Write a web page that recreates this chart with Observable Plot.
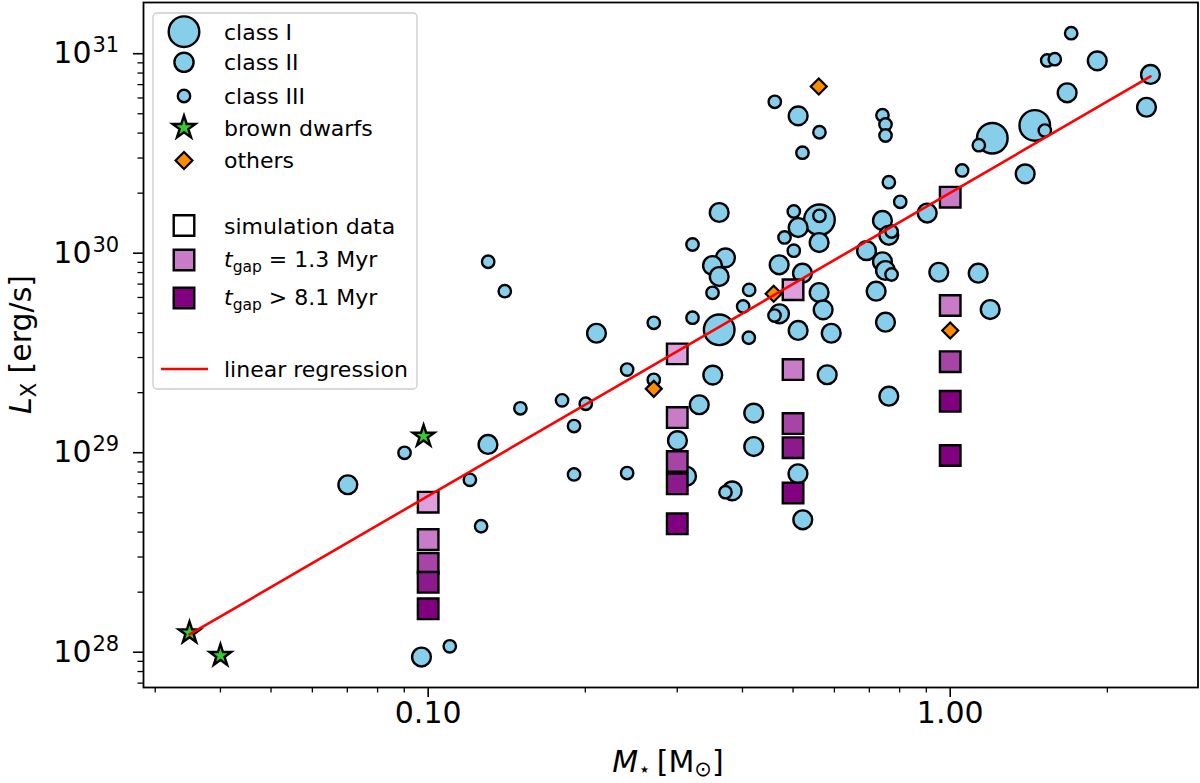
<!DOCTYPE html>
<html>
<head>
<meta charset="utf-8">
<script src="https://cdn.jsdelivr.net/npm/d3@7"></script>
<script src="https://cdn.jsdelivr.net/npm/@observablehq/plot@0.6"></script>
<style>
  body { margin: 0; background: #fff; font-family: "DejaVu Sans", sans-serif; }
  #chart { position: relative; width: 1200px; height: 783px; }
  #legend { position: absolute; left: 0; top: 0; pointer-events: none; }
</style>
</head>
<body>
<div id="chart"></div>
<script>
// observed stars, M* in solar masses, Lx in erg/s
const classI_M = [1.452, 1.204, 0.5617, 0.361];
const classI_L = [4.37e30, 3.77e30, 1.47e30, 4.13e29];

const classII_M = [1.913, 2.419, 2.377, 1.675, 1.392, 0.5114, 0.9036, 0.361, 0.5114, 0.561,
  0.4703, 0.5212, 0.3711, 0.3505, 0.361, 0.471, 0.561, 0.571, 0.5114, 0.5917,
  0.7417, 0.7629, 0.6913, 0.7417, 0.7517, 0.7214, 0.7517, 0.951, 1.1315, 1.193,
  0.2101, 0.3509, 0.3306, 0.3003, 0.1302, 0.3126, 0.4204, 0.4204, 0.3823, 0.511,
  0.5219, 0.5813, 0.7629, 0.07016, 0.0971];
const classII_L = [9.21e30, 7.87e30, 5.39e30, 6.37e30, 2.50e30, 4.88e30, 1.59e30, 1.60e30, 1.345e30, 1.131e30,
  8.75e29, 7.94e29, 9.48e29, 8.68e29, 7.64e29, 4.97e29, 6.35e29, 5.20e29, 4.10e29, 3.97e29,
  1.46e30, 1.23e30, 1.03e30, 9.06e29, 8.19e29, 6.45e29, 4.51e29, 8.03e29, 7.94e29, 5.22e29,
  3.97e29, 2.45e29, 1.74e29, 1.15e29, 1.10e29, 7.62e28, 1.58e29, 1.074e29, 6.44e28, 7.84e28,
  4.61e28, 2.46e29, 1.92e29, 6.91e28, 9.46e27];

const classIII_M = [1.705, 1.534, 1.586, 1.518, 1.1345, 1.054, 0.4613, 0.5617, 0.5212, 0.7417,
  0.7517, 0.7517, 0.7629, 0.8022, 0.5016, 0.5617, 0.4815, 0.5016, 0.412, 0.3505,
  0.4012, 0.4607, 0.4113, 0.7721, 0.7721, 0.1303, 0.1402, 0.2705, 0.3209, 0.3209,
  0.2405, 0.2705, 0.1805, 0.2004, 0.1502, 0.1903, 0.0901, 0.1202, 0.1263, 0.11,
  0.1903, 0.2405, 0.3711];
const classIII_L = [1.267e31, 9.25e30, 9.39e30, 4.12e30, 3.48e30, 2.60e30, 5.74e30, 4.04e30, 3.19e30, 4.92e30,
  4.42e30, 3.89e30, 2.27e30, 1.81e30, 1.62e30, 1.54e30, 1.20e30, 1.03e30, 6.55e29, 6.33e29,
  5.41e29, 4.87e29, 3.77e29, 1.285e30, 7.82e29, 9.06e29, 6.45e29, 4.48e29, 4.75e29, 1.106e30,
  2.61e29, 2.32e29, 1.83e29, 1.76e29, 1.67e29, 1.36e29, 9.99e28, 7.31e28, 4.28e28, 1.07e28,
  7.78e28, 7.91e28, 6.34e28];

const dwarfs_M = [0.0349, 0.040, 0.098];
const dwarfs_L = [1.25e28, 9.62e27, 1.21e29];

const others_M = [0.560, 0.459, 0.2705, 1.0];
const others_L = [6.85e30, 6.26e29, 2.09e29, 4.10e29];

// simulation runs; stage 0 = earliest gap ... 4 = latest
const sim_M = [0.1, 0.1, 0.1, 0.1, 0.1, 0.3, 0.3, 0.3, 0.3, 0.3,
  0.5, 0.5, 0.5, 0.5, 0.5, 1.0, 1.0, 1.0, 1.0, 1.0];
const sim_L = [5.65e28, 3.67e28, 2.79e28, 2.24e28, 1.65e28, 3.13e29, 1.50e29, 9.04e28, 6.98e28, 4.40e28,
  6.56e29, 2.61e29, 1.40e29, 1.06e29, 6.28e28, 1.91e30, 5.47e29, 2.86e29, 1.81e29, 9.68e28];
const sim_stage = [0, 1, 2, 3, 4, 0, 1, 2, 3, 4, 0, 1, 2, 3, 4, 1, 1, 2, 4, 4];

// linear regression (end points)
const reg_M = [0.0349, 2.419];
const reg_L = [1.227e28, 7.69e30];

const xTicks = [0.1, 1];
const xMinor = [0.03, 0.04, 0.05, 0.06, 0.07, 0.08, 0.09, 0.2, 0.3, 0.4, 0.5, 0.6, 0.7, 0.8, 0.9, 2];
const yTicks = [1e28, 1e29, 1e30, 1e31];
const yMinor = [7e27, 8e27, 9e27,
  2e28, 3e28, 4e28, 5e28, 6e28, 7e28, 8e28, 9e28,
  2e29, 3e29, 4e29, 5e29, 6e29, 7e29, 8e29, 9e29,
  2e30, 3e30, 4e30, 5e30, 6e30, 7e30, 8e30, 9e30];

const stageColors = ["#dda0dd", "#c87cc8", "#a645a6", "#8d1a8d", "#800080"];
const sky = "#87ceeb";

const rows = (M, L, S) => M.map((m, i) => ({m, l: L[i], s: S ? S[i] : null}));

const plot = Plot.plot({
  width: 1200,
  height: 783,
  marginLeft: 143,
  marginRight: 2.5,
  marginTop: 2,
  marginBottom: 96,
  x: {type: "log", domain: [0.02849, 2.983], axis: null},
  y: {type: "log", domain: [6.655e27, 1.806e31], axis: null},
  color: {type: "ordinal", domain: [0, 1, 2, 3, 4], range: stageColors},
  style: {fontFamily: "DejaVu Sans", fontSize: "30px", background: "white", color: "black"},
  marks: [
    Plot.dot(rows(classI_M, classI_L), {x: "m", y: "l", r: 15.3, fill: sky, stroke: "black", strokeWidth: 2.4}),
    Plot.dot(rows(classII_M, classII_L), {x: "m", y: "l", r: 9.4, fill: sky, stroke: "black", strokeWidth: 2.4}),
    Plot.dot(rows(classIII_M, classIII_L), {x: "m", y: "l", r: 6.2, fill: sky, stroke: "black", strokeWidth: 2.4}),
    Plot.dot(rows(others_M, others_L), {x: "m", y: "l", symbol: "diamond2", r: 7.2, fill: "darkorange", stroke: "black", strokeWidth: 2.2}),
    Plot.dot(rows(sim_M, sim_L, sim_stage), {x: "m", y: "l", symbol: "square", r: 11.6, fill: "s", stroke: "black", strokeWidth: 2.4}),
    Plot.dot(rows(dwarfs_M, dwarfs_L), {x: "m", y: "l", symbol: "star", r: 6.8, fill: "limegreen", stroke: "black", strokeWidth: 2.4}),
    Plot.line(rows(reg_M, reg_L), {x: "m", y: "l", stroke: "red", strokeWidth: 2.6}),
    Plot.frame({stroke: "black", strokeWidth: 1.8}),
    Plot.axisX(xTicks, {anchor: "bottom", tickSize: 10, strokeWidth: 1.6, tickFormat: () => "", label: null}),
    Plot.axisX(xMinor, {anchor: "bottom", tickSize: 5.5, strokeWidth: 1.3, tickFormat: () => "", label: null}),
    Plot.axisY(yTicks, {anchor: "left", tickSize: 10, strokeWidth: 1.6, tickFormat: () => "", label: null}),
    Plot.axisY(yMinor, {anchor: "left", tickSize: 5.5, strokeWidth: 1.3, tickFormat: () => "", label: null}),
    Plot.text(xTicks, {x: (d) => d, frameAnchor: "bottom", dy: 35.5, text: (d) => d3.format(".2f")(d), fontSize: 30}),
    Plot.text(yTicks, {y: (d) => d, frameAnchor: "left", dx: -52, textAnchor: "end", text: () => "10", fontSize: 30}),
    Plot.text(yTicks, {y: (d) => d, frameAnchor: "left", dx: -51, dy: -8, textAnchor: "start",
      text: (d) => String(Math.round(Math.log10(d))), fontSize: 21})
  ]
});

document.getElementById("chart").append(plot);

// axis titles with italics and subscripts
const svg = d3.select(plot);
const xl = svg.append("text").attr("x", 668).attr("y", 772).attr("text-anchor", "middle")
  .attr("font-size", 30).attr("fill", "black");
xl.append("tspan").attr("font-style", "italic").text("M");
xl.append("tspan").attr("font-size", 20).attr("dy", 4).text("⋆");
xl.append("tspan").attr("dy", -4).attr("dx", 6).text("[M");
xl.append("tspan").attr("font-size", 21).attr("dy", 4).text("⊙");
xl.append("tspan").attr("dy", -4).text("]");

const yl = svg.append("text").attr("transform", "translate(31,344.5) rotate(-90)")
  .attr("text-anchor", "middle").attr("font-size", 30).attr("fill", "black");
yl.append("tspan").attr("font-style", "italic").text("L");
yl.append("tspan").attr("font-size", 21).attr("dy", 5).text("X");
yl.append("tspan").attr("dy", -5).text(" [erg/s]");

// legend box
const leg = d3.select("#chart").append("svg").attr("id", "legend")
  .attr("width", 1200).attr("height", 783)
  .style("font-family", "DejaVu Sans").style("font-size", "22px");
leg.append("rect").attr("x", 153).attr("y", 13).attr("width", 264).attr("height", 376).attr("rx", 4)
  .attr("fill", "white").attr("fill-opacity", 0.8).attr("stroke", "#cccccc").attr("stroke-width", 1.3);

const mx = 184, tx = 224;
const sym = (type, r) => d3.symbol(type, Math.PI * r * r)();
const addMark = (path, y, fill, sw) => leg.append("path").attr("d", path)
  .attr("transform", `translate(${mx},${y})`).attr("fill", fill).attr("stroke", "black").attr("stroke-width", sw);

addMark(sym(d3.symbolCircle, 15.3), 31.7, sky, 2.4);
addMark(sym(d3.symbolCircle, 9.6), 62.3, sky, 2.4);
addMark(sym(d3.symbolCircle, 6.2), 96, sky, 2.4);
addMark(sym(d3.symbolStar, 7.2), 127.7, "limegreen", 2.4);
addMark(sym(d3.symbolDiamond2, 7.6), 160.5, "darkorange", 2.2);
addMark(sym(d3.symbolSquare, 11.6), 225.5, "white", 2.4);
addMark(sym(d3.symbolSquare, 11.6), 260, stageColors[1], 2.4);
addMark(sym(d3.symbolSquare, 11.6), 298, stageColors[4], 2.4);
leg.append("line").attr("x1", 161).attr("x2", 208).attr("y1", 369).attr("y2", 369)
  .attr("stroke", "red").attr("stroke-width", 2.6);

const label = (y, s) => leg.append("text").attr("x", tx).attr("y", y).attr("dy", "0.36em").text(s);
label(32, "class I");
label(62.5, "class II");
label(96, "class III");
label(128, "brown dwarfs");
label(160.5, "others");
label(226, "simulation data");
const gap = (y, rest) => {
  const t = leg.append("text").attr("x", tx).attr("y", y).attr("dy", "0.36em");
  t.append("tspan").attr("font-style", "italic").text("t");
  t.append("tspan").attr("font-size", 15.5).attr("dy", 5).text("gap");
  t.append("tspan").attr("dy", -5).text(rest);
};
gap(259, " = 1.3 Myr");
gap(297, " > 8.1 Myr");
label(369, "linear regression");
</script>
</body>
</html>
